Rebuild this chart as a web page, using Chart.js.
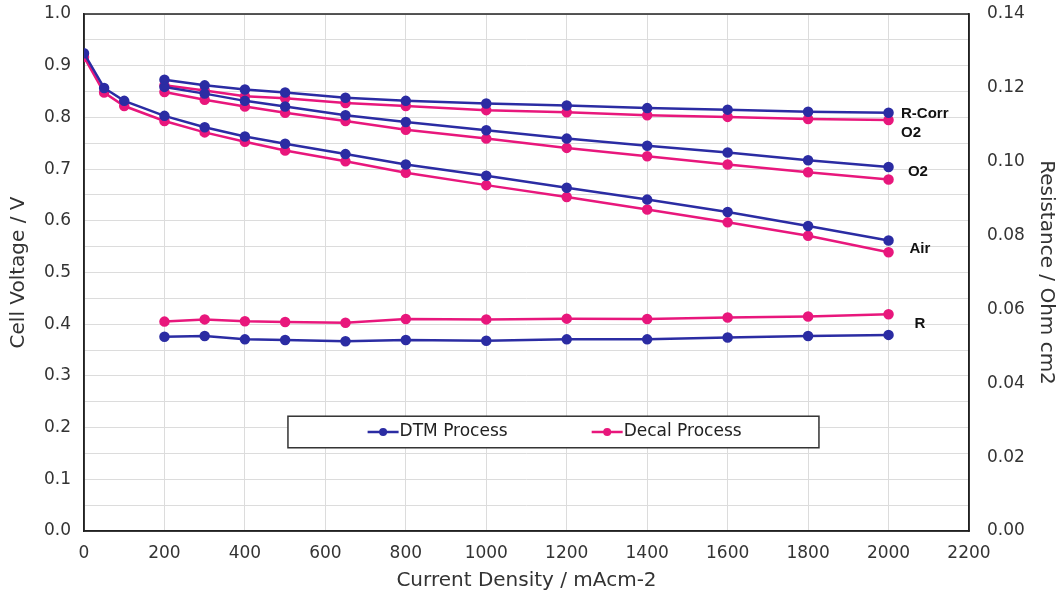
<!DOCTYPE html>
<html>
<head>
<meta charset="utf-8">
<script src="https://cdn.jsdelivr.net/npm/chart.js@4.4.1/dist/chart.umd.min.js"></script>
<style>
  html, body { margin: 0; padding: 0; background: #fff; }
  #wrap { width: 1058px; height: 593px; position: relative; }
</style>
</head>
<body>
<div id="wrap"><canvas id="polChart"></canvas></div>
<script>
// current densities (mA/cm2)
const airCurrent = [0, 50, 100, 200, 300, 400, 500, 650, 800, 1000, 1200, 1400, 1600, 1800, 2000];
const hiCurrent = [200, 300, 400, 500, 650, 800, 1000, 1200, 1400, 1600, 1800, 2000];

// cell voltage / V
const dtmAir = [0.924, 0.857, 0.832, 0.803, 0.781, 0.763, 0.749, 0.729, 0.709, 0.687, 0.664, 0.641, 0.617, 0.590, 0.562];
const decalAir = [0.917, 0.848, 0.822, 0.793, 0.771, 0.753, 0.736, 0.715, 0.693, 0.669, 0.646, 0.622, 0.597, 0.571, 0.539];
const dtmO2 = [0.859, 0.846, 0.832, 0.821, 0.804, 0.791, 0.775, 0.759, 0.745, 0.732, 0.717, 0.704];
const decalO2 = [0.849, 0.834, 0.821, 0.809, 0.793, 0.776, 0.759, 0.741, 0.725, 0.709, 0.694, 0.680];
const dtmRCorr = [0.873, 0.862, 0.854, 0.848, 0.838, 0.832, 0.827, 0.823, 0.818, 0.815, 0.811, 0.809];
const decalRCorr = [0.862, 0.852, 0.841, 0.837, 0.828, 0.822, 0.814, 0.810, 0.804, 0.801, 0.797, 0.795];

// resistance / Ohm cm2 (right axis)
const dtmR = [0.0526, 0.0528, 0.0519, 0.0517, 0.0514, 0.0517, 0.0515, 0.0519, 0.0519, 0.0524, 0.0528, 0.0531];
const decalR = [0.0567, 0.0573, 0.0568, 0.0566, 0.0564, 0.0574, 0.0573, 0.0575, 0.0574, 0.0578, 0.0581, 0.0587];

const xTicks = [0, 2200, 200];
const leftTicks = [0, 1.0, 0.05];
const rightTicks = [0, 0.14, 0.02];

// curve labels on the right side, in data units (x, left-axis value)
const curveLabels = ["R-Corr", "O2", "O2", "Air", "R"];
const curveLabelX = [2090, 2056, 2073, 2078, 2078];
const curveLabelY = [0.8075, 0.770, 0.6956, 0.546, 0.400];

const legendNames = ["DTM Process", "Decal Process"];

const BLUE = "#2b2ca3";
const PINK = "#e8177c";
const FONT = "'DejaVu Sans', Verdana, sans-serif";

function pts(xs, ys) {
    return xs.map((x, i) => ({ x: x, y: ys[i] }));
}

function series(label, xs, ys, color, axis) {
    return {
        label: label,
        data: pts(xs, ys),
        yAxisID: axis,
        borderColor: color,
        backgroundColor: color,
        borderWidth: 2.5,
        pointRadius: 4,
        pointHoverRadius: 4,
        showLine: true,
        tension: 0
    };
}

// frame around the plot area
const framePlugin = {
    id: "frame",
    beforeDatasetsDraw(chart) {
        const a = chart.chartArea, ctx = chart.ctx;
        ctx.save();
        ctx.strokeStyle = "#222";
        ctx.lineWidth = 1.5;
        ctx.strokeRect(a.left, a.top, a.right - a.left, a.bottom - a.top);
        ctx.restore();
    }
};

const labelPlugin = {
    id: "curveLabels",
    afterDatasetsDraw(chart) {
        const ctx = chart.ctx, xs = chart.scales.x, ys = chart.scales.y;
        ctx.save();
        ctx.font = "bold 15px 'Liberation Sans', Arial, sans-serif";
        ctx.fillStyle = "#111";
        ctx.textAlign = "center";
        ctx.textBaseline = "middle";
        curveLabels.forEach((t, i) => {
            ctx.fillText(t, xs.getPixelForValue(curveLabelX[i]), ys.getPixelForValue(curveLabelY[i]));
        });
        ctx.restore();
    }
};

// boxed legend inside the plot area
const legendPlugin = {
    id: "boxLegend",
    afterDraw(chart) {
        const ctx = chart.ctx, xs = chart.scales.x, ys = chart.scales.y;
        const left = xs.getPixelForValue(507), right = xs.getPixelForValue(1827);
        const top = ys.getPixelForValue(0.222), bottom = ys.getPixelForValue(0.161);
        ctx.save();
        ctx.fillStyle = "#fff";
        ctx.fillRect(left, top, right - left, bottom - top);
        ctx.strokeStyle = "#333";
        ctx.lineWidth = 1.5;
        ctx.strokeRect(left, top, right - left, bottom - top);
        const cy = (top + bottom) / 2;
        const colors = [BLUE, PINK];
        const startX = [xs.getPixelForValue(705), xs.getPixelForValue(1262)];
        ctx.font = "17px " + FONT;
        ctx.textBaseline = "middle";
        ctx.textAlign = "left";
        legendNames.forEach((n, i) => {
            const x0 = startX[i];
            ctx.strokeStyle = colors[i];
            ctx.fillStyle = colors[i];
            ctx.lineWidth = 2.5;
            ctx.beginPath();
            ctx.moveTo(x0, cy);
            ctx.lineTo(x0 + 31, cy);
            ctx.stroke();
            ctx.beginPath();
            ctx.arc(x0 + 15.5, cy, 4, 0, Math.PI * 2);
            ctx.fill();
            ctx.fillStyle = "#222";
            ctx.fillText(n, x0 + 32, cy);
        });
        ctx.restore();
    }
};

// tick padding gets added to the top/bottom reserve of vertical axes; drop it
function fixVertical(width) {
    return s => {
        s.width = width;
        s.paddingTop = 0;
        s.paddingBottom = 0;
    };
}

new Chart(document.getElementById("polChart"), {
    type: "scatter",
    data: {
        datasets: [
            series("DTM Air", airCurrent, dtmAir, BLUE, "y"),
            series("Decal Air", airCurrent, decalAir, PINK, "y"),
            series("DTM O2", hiCurrent, dtmO2, BLUE, "y"),
            series("Decal O2", hiCurrent, decalO2, PINK, "y"),
            series("DTM R-Corr O2", hiCurrent, dtmRCorr, BLUE, "y"),
            series("Decal R-Corr O2", hiCurrent, decalRCorr, PINK, "y"),
            series("DTM R", hiCurrent, dtmR, BLUE, "y1"),
            series("Decal R", hiCurrent, decalR, PINK, "y1")
        ]
    },
    options: {
        responsive: true,
        maintainAspectRatio: false,
        animation: false,
        layout: { padding: { top: 14, bottom: 0, left: 0, right: 0 } },
        plugins: {
            legend: { display: false },
            tooltip: { enabled: false }
        },
        scales: {
            x: {
                type: "linear",
                min: xTicks[0],
                max: xTicks[1],
                ticks: { stepSize: xTicks[2], color: "#333", font: { family: FONT, size: 17 }, padding: 12, maxRotation: 0, callback: v => String(v) },
                grid: { color: "#dcdcdc", lineWidth: 1, drawTicks: false },
                border: { color: "#222", width: 1.5 },
                title: { display: true, text: "Current Density / mAcm-2", color: "#333", font: { family: FONT, size: 20 }, padding: { top: 0, bottom: 0 } },
                afterFit(s) { s.height = 62; }
            },
            y: {
                position: "left",
                min: leftTicks[0],
                max: leftTicks[1],
                ticks: {
                    stepSize: leftTicks[2],
                    color: "#333",
                    font: { family: FONT, size: 17 },
                    padding: 13,
                    callback: v => (Math.round(v * 100) % 10 === 0 ? v.toFixed(1) : "")
                },
                grid: { color: "#dcdcdc", lineWidth: 1, drawTicks: false },
                border: { color: "#222", width: 1.5 },
                title: { display: true, text: "Cell Voltage / V", color: "#333", font: { family: FONT, size: 20 }, padding: { top: 7, bottom: 0 } },
                afterFit: fixVertical(84)
            },
            y1: {
                position: "right",
                min: rightTicks[0],
                max: rightTicks[1],
                ticks: { stepSize: rightTicks[2], color: "#333", font: { family: FONT, size: 17 }, padding: 18, callback: v => v.toFixed(2) },
                grid: { display: false, drawTicks: false },
                border: { color: "#222", width: 1.5 },
                title: { display: true, text: "Resistance / Ohm cm2", color: "#333", font: { family: FONT, size: 20 }, padding: { top: 0, bottom: 0 } },
                afterFit: fixVertical(89)
            }
        }
    },
    plugins: [framePlugin, labelPlugin, legendPlugin]
});
</script>
</body>
</html>
